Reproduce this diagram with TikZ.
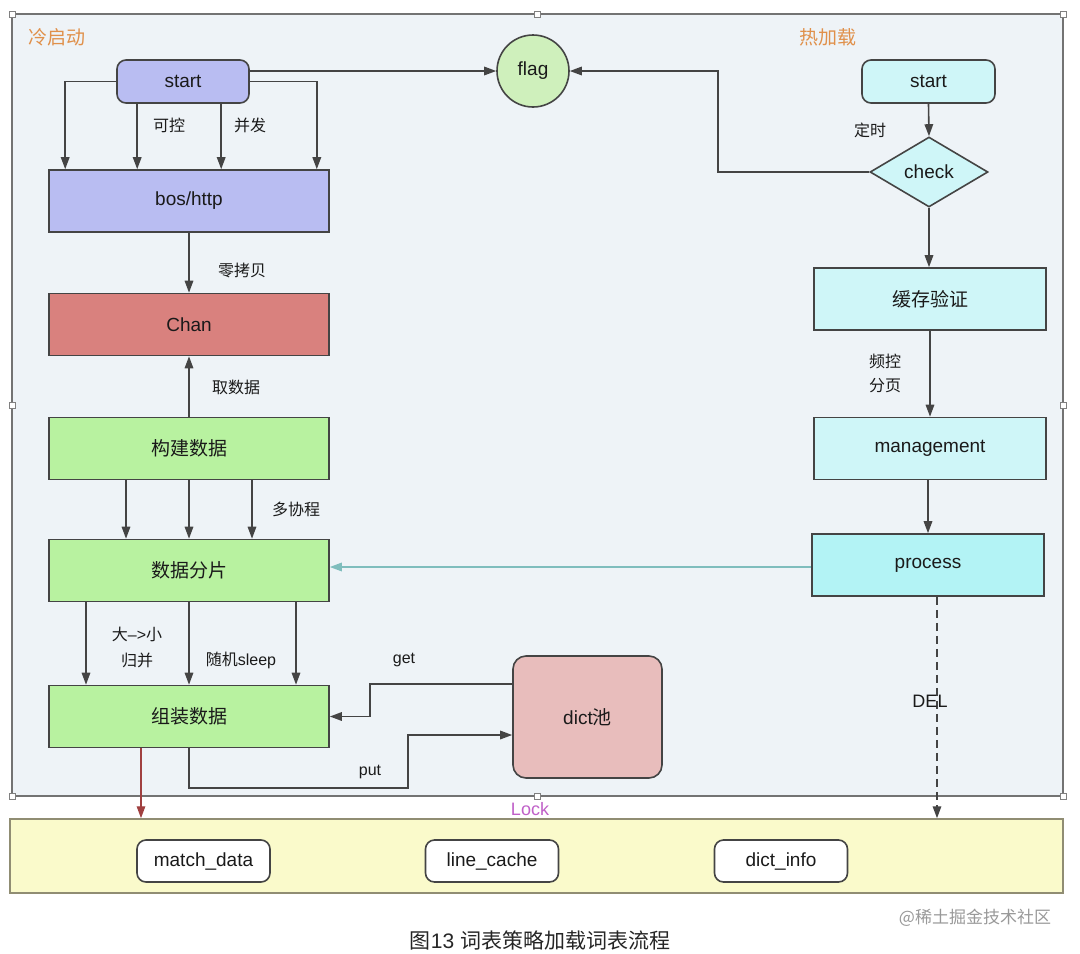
\documentclass[tikz,border=0pt]{standalone}
\usepackage{fontspec}
\setmainfont{Liberation Sans}
\newfontfamily\cjk{Noto Sans CJK SC}
\newcommand{\zh}[1]{{\cjk #1}}
\usetikzlibrary{arrows.meta,shapes.geometric,calc}
\definecolor{bgc}{HTML}{EEF3F7}
\definecolor{linec}{HTML}{444444}
\definecolor{lav}{HTML}{B9BDF2}
\definecolor{chanc}{HTML}{D9817E}
\definecolor{grn}{HTML}{B8F2A0}
\definecolor{cyl}{HTML}{CFF6F8}
\definecolor{cyp}{HTML}{B3F3F5}
\definecolor{flagc}{HTML}{CFF0BC}
\definecolor{dictc}{HTML}{E8BDBC}
\definecolor{yel}{HTML}{FAFACB}
\definecolor{orng}{HTML}{E0904A}
\definecolor{lockc}{HTML}{C060C8}
\definecolor{teal}{HTML}{7FBDBD}
\definecolor{redc}{HTML}{A04040}
\definecolor{txt}{HTML}{1A1A1A}
\begin{document}
\begin{tikzpicture}[x=1pt,y=-1pt,
  every node/.style={text=txt},
  box/.style={draw=linec, line width=1.6pt, rectangle, minimum width=280, minimum height=62, inner sep=0, font=\fontsize{19}{23}\selectfont},
  rbox/.style={draw=linec, line width=1.6pt, rectangle, rounded corners=9, inner sep=0, font=\fontsize{19}{23}\selectfont},
  arr/.style={draw=linec, line width=1.6pt, -{Triangle[length=12pt,width=8.5pt]}},
  lbl/.style={font=\fontsize{16}{19}\selectfont, inner sep=0},
  handle/.style={draw=gray, fill=white, line width=0.9pt, minimum size=6, inner sep=0, rectangle},
  whitebox/.style={draw=linec, line width=1.6pt, fill=white, rounded corners=9, minimum width=133, minimum height=42, inner sep=0, font=\fontsize{19}{23}\selectfont}
]
\useasboundingbox[fill=white] (0,0) rectangle (1080,954);

% containers
\node[draw=gray!90!black, line width=1.5pt, fill=bgc, minimum width=1051, minimum height=782, inner sep=0] (cont) at (537.5,405) {};
\node[draw=gray!80!olive, line width=1.5pt, fill=yel, minimum width=1053, minimum height=74, inner sep=0] (yelbox) at (536.5,856) {};
\foreach \p in {(12,14),(537,14),(1063,14),(12,405),(1063,405),(12,796),(537,796),(1063,796)}
  \node[handle] at \p {};

\node[text=orng, font=\fontsize{19}{23}\selectfont\cjk] (lcold) at (57,37) {冷启动};
\node[text=orng, font=\fontsize{19}{23}\selectfont\cjk] (lhot) at (828,37) {热加载};

% left column
\node[rbox, fill=lav, minimum width=132, minimum height=43] (start) at (183,81.5) {start};
\node[draw=linec, line width=1.6pt, circle, fill=flagc, minimum size=72, inner sep=0, font=\fontsize{19}{23}\selectfont] (flag) at (533,71) {flag};
\node[box, fill=lav] (bos) at (189,201) {bos/http};
\node[box, fill=chanc] (chan) at (189,324.5) {Chan};
\node[box, fill=grn] (build) at (189,448.5) {\zh{构建数据}};
\node[box, fill=grn] (split) at (189,570.5) {\zh{数据分片}};
\node[box, fill=grn] (assemble) at (189,716.5) {\zh{组装数据}};
\node[rbox, fill=dictc, rounded corners=13, minimum width=149, minimum height=122] (dict) at (587.5,717) {dict\zh{池}};

% right column
\node[rbox, fill=cyl, minimum width=133, minimum height=43] (rstart) at (928.5,81.5) {start};
\node[draw=linec, line width=1.6pt, diamond, aspect=1.69, fill=cyl, minimum width=118, minimum height=70, inner sep=0, font=\fontsize{19}{23}\selectfont] (check) at (929,172) {check};
\node[box, fill=cyl, minimum width=232] (cache) at (930,299) {\zh{缓存验证}};
\node[box, fill=cyl, minimum width=232] (mgmt) at (930,448.5) {management};
\node[box, fill=cyp, minimum width=232] (process) at (928,565) {process};

% bottom
\node[whitebox] (match) at (203.5,861) {match\_data};
\node[whitebox] (linec) at (492,861) {line\_cache};
\node[whitebox] (dinfo) at (781,861) {dict\_info};

% connectors: left
\draw[arr] (start.east |- flag.west) -- (flag.west);
\draw[arr] (start.west) -| ([xshift=17]bos.north west);
\draw[arr] (start.east) -| ([xshift=-13]bos.north east);
\draw[arr] ([xshift=21]start.south west) -- ([xshift=21]start.south west |- bos.north);
\draw[arr] ([xshift=105]start.south west) -- ([xshift=105]start.south west |- bos.north);
\node[lbl] (lkk) at (169,125) {\zh{可控}};
\node[lbl] (lbf) at (250,125) {\zh{并发}};

\draw[arr] (bos.south) -- (chan.north);
\node[lbl] (llkb) at (242,270) {\zh{零拷贝}};
\draw[arr] (build.north) -- (chan.south);
\node[lbl] (lqsj) at (236,387) {\zh{取数据}};

\foreach \dx in {-63,0,63}
  \draw[arr] ([xshift=\dx]build.south) -- ([xshift=\dx]split.north);
\node[lbl] (ldxc) at (296,509) {\zh{多协程}};

\foreach \dx in {-103,0,107}
  \draw[arr] ([xshift=\dx]split.south) -- ([xshift=\dx]assemble.north);
\node[lbl] (ldx) at (137,634) {\zh{大}–>\zh{小}};
\node[lbl] (lgb) at (137,660) {\zh{归并}};
\node[lbl] (lsj) at (241,660) {\zh{随机}sleep};

\draw[arr] ([yshift=33]dict.west) -| ([xshift=40]assemble.east) -- (assemble.east);
\node[lbl] (lget) at (404,660) {get};
\coordinate (p1) at (408,788);
\draw[arr] (assemble.south) |- (p1) |- ([yshift=-18]dict.west);
\node[lbl] (lput) at (370,772) {put};

\draw[draw=redc, line width=1.4pt, -{Triangle[length=12pt,width=8.5pt]}] ([xshift=-48]assemble.south) -- ([xshift=-48]assemble.south |- yelbox.north);

% connectors: right
\draw[arr] (rstart.south) -- (check.north);
\node[lbl] (ldsh) at (870,130) {\zh{定时}};
\coordinate (c1) at (718,71);
\draw[arr] (check.west) -| (c1) -- (flag.east);
\draw[arr] (check.south) -- (check.south |- cache.north);
\draw[arr] (cache.south) -- (cache.south |- mgmt.north);
\node[lbl] (lpk) at (885,361) {\zh{频控}};
\node[lbl] (lfy) at (885,386) {\zh{分页}};
\draw[arr] (mgmt.south -| process.north) -- (process.north);
\draw[draw=teal, line width=1.6pt, -{Triangle[length=12pt,width=8.5pt]}] ([yshift=-2]process.west) -- ([yshift=-2]process.west -| split.east);
\draw[arr, dash pattern=on 8pt off 5pt] ([xshift=9]process.south) -- ([xshift=9]process.south |- yelbox.north);
\node[font=\fontsize{18}{22}\selectfont, inner sep=0] (ldel) at (930,701) {DEL};

\node[text=lockc, font=\fontsize{18}{22}\selectfont, inner sep=0] (llock) at (530,809) {Lock};

% caption
\node[font=\fontsize{21}{25}\selectfont, text=black!85] (cap) at (540,940) {\zh{图}13 \zh{词表策略加载词表流程}};
\node[font=\fontsize{17}{20}\selectfont\cjk, text=black!40] (wm) at (975,918) {@稀土掘金技术社区};
\end{tikzpicture}
\end{document}
